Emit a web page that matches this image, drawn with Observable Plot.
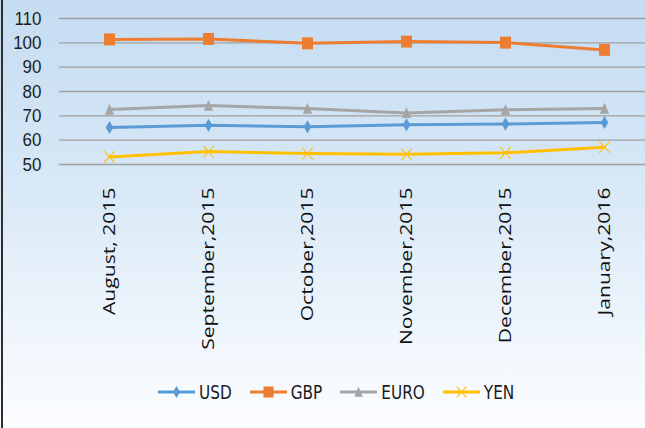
<!DOCTYPE html>
<html><head><meta charset="utf-8">
<script src="https://cdn.jsdelivr.net/npm/d3@7"></script>
<script src="https://cdn.jsdelivr.net/npm/@observablehq/plot@0.6"></script>
<style>
body{margin:0;}
#wrap{position:relative;width:645px;height:428px;overflow:hidden;
  background:linear-gradient(to bottom,#c5dcf1 0%,#d6e7f6 40%,#eaf3fb 70%,#fcfdff 100%);}
#border{position:absolute;left:1px;top:0;width:2px;height:428px;background:#2e2e2e;}
#chart{position:absolute;left:0;top:0;}
#legend{position:absolute;top:372px;left:158px;height:40px;display:flex;align-items:center;
  font-family:"Liberation Sans Narrow","DejaVu Sans Condensed",sans-serif;font-size:17px;color:#1a1a1a;}
.item{display:flex;align-items:center;margin-right:18px;}
.item svg{display:block;margin-right:4px;}
.item span{display:inline-block;transform:scaleY(1.15);}
</style></head>
<body>
<div id="wrap"><div id="chart"></div><div id="legend"></div><div id="border"></div></div>
<script>
const months = ["August, 2015","September,2015","October,2015","November,2015","December,2015","January,2016"];
const usd  = [65.2, 66.1, 65.5, 66.3, 66.6, 67.3];
const gbp  = [101.4, 101.6, 99.8, 100.5, 100.1, 97.1];
const euro = [72.6, 74.2, 73.0, 71.2, 72.5, 73.0];
const yen  = [53.1, 55.3, 54.5, 54.2, 54.8, 57.1];
const yTicks = [50, 60, 70, 80, 90, 100, 110];

const symSquare = {draw(c, s){const r=Math.sqrt(s/Math.PI); c.rect(-0.9*r,-0.98*r,1.8*r,1.96*r);}};
const symTri = {draw(c, s){const r=Math.sqrt(s/Math.PI); c.moveTo(0,-1.45*r); c.lineTo(1.15*r,1.3*r); c.lineTo(-1.15*r,1.3*r); c.closePath();}};
const symTimes = {draw(c, s){const r=Math.sqrt(s/Math.PI); c.moveTo(-1.05*r,-1.15*r); c.lineTo(1.05*r,1.15*r); c.moveTo(1.05*r,-1.15*r); c.lineTo(-1.05*r,1.15*r);}};

const series = [
  {name:"USD",  values:usd,  color:"#5b9bd5", symbol:"diamond", r:4,   filled:true},
  {name:"GBP",  values:gbp,  color:"#ed7d31", symbol:symSquare, r:6.1, filled:true},
  {name:"EURO", values:euro, color:"#a5a5a5", symbol:symTri,    r:4,   filled:true},
  {name:"YEN",  values:yen,  color:"#ffc000", symbol:symTimes,  r:5,   filled:false}
];

const marks = [
  Plot.ruleY(yTicks, {stroke:"#a0a0a0", strokeWidth:1.3}),
  Plot.axisY(yTicks, {tickSize:0, tickPadding:18, fontSize:17, fontFamily:"Liberation Sans, Arial, sans-serif", fill:"#1e1e1e", label:null})
];
for (const s of series) {
  const rows = months.map((m, i) => ({month:m, value:s.values[i]}));
  marks.push(Plot.line(rows, {x:"month", y:"value", stroke:s.color, strokeWidth:3, strokeLinejoin:"round"}));
  marks.push(Plot.dot(rows, {x:"month", y:"value", symbol:()=>s.symbol, r:s.r,
    fill: s.filled ? s.color : "none", stroke: s.filled ? "none" : s.color, strokeWidth:1.1}));
}
marks.push(Plot.text(months, {x:d=>d, frameAnchor:"bottom", dy:23, rotate:-90, textAnchor:"end", lineAnchor:"middle",
  fontSize:16, fontFamily:"Open Sans, sans-serif", fill:"#111"}));

const chart = Plot.plot({
  width:645, height:372, marginTop:18, marginBottom:208, marginLeft:59, marginRight:0,
  style:{background:"transparent", overflow:"visible"},
  x:{type:"point", domain:months, range:[108.5, 603.5], padding:0, axis:null},
  y:{domain:[50,110], axis:null},
  symbol:{type:"identity"},
  marks
});
document.getElementById("chart").appendChild(chart);

d3.select(chart).selectAll("text").each(function(){
  const txt = this.textContent;
  let sx = null, sy = null;
  if (months.includes(txt)) { sx = 1.32; sy = 1; }
  else if (yTicks.map(String).includes(txt)) { sx = 1; sy = 1.12; }
  if (sx === null) return;
  const t = this.getAttribute("transform") || "";
  this.setAttribute("transform", t + ` scale(${sx},${sy})`);
});

const legend = d3.select("#legend");
for (const s of series) {
  const it = legend.append("div").attr("class","item");
  const sv = it.append("svg").attr("width",37).attr("height",20);
  sv.append("line").attr("x1",0).attr("x2",37).attr("y1",10).attr("y2",10).attr("stroke",s.color).attr("stroke-width",3);
  const sym = typeof s.symbol === "string" ? d3.symbolDiamond : s.symbol;
  sv.append("path").attr("transform","translate(18.5,10)")
    .attr("d", d3.symbol(sym, Math.PI*s.r*s.r*0.85)())
    .attr("fill", s.filled ? s.color : "none").attr("stroke", s.filled ? "none" : s.color).attr("stroke-width",1.1);
  it.append("span").text(s.name);
}
</script>
</body></html>
